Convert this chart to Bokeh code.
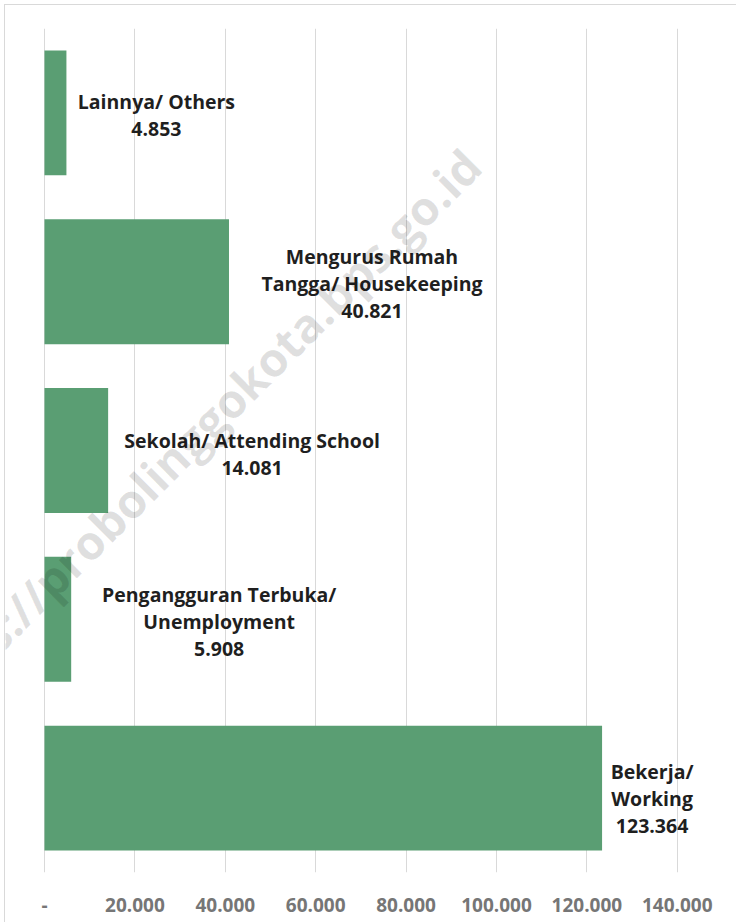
from bokeh.plotting import figure
from bokeh.models import FactorRange, Range1d, FixedTicker, Label, ColumnDataSource
from bokeh.core.properties import value
from bokeh.embed import file_html
from bokeh.resources import INLINE

# ---- data (bottom to top) ----
categories = ["Bekerja/ Working", "Pengangguran Terbuka/ Unemployment",
              "Sekolah/ Attending School", "Mengurus Rumah Tangga/ Housekeeping",
              "Lainnya/ Others"]
label_names = ["Bekerja/\nWorking", "Pengangguran Terbuka/\nUnemployment",
               "Sekolah/ Attending School", "Mengurus Rumah\nTangga/ Housekeeping",
               "Lainnya/ Others"]
values = [123364, 5908, 14081, 40821, 4853]
tick_values = [0, 20000, 40000, 60000, 80000, 100000, 120000, 140000]
tick_labels = ["-", "20.000", "40.000", "60.000", "80.000", "100.000", "120.000", "140.000"]

# ---- style ----
label_dx = [50, 148, 144, 143, 90]
label_dy = [10, 2, 3, 2, 2]
FONT = "Open Sans"

def fmt(v):
    return f"{v:,}".replace(",", ".")

labels = [n + "\n" + fmt(v) for n, v in zip(label_names, values)]
src = ColumnDataSource(dict(cat=categories, val=values, lab=labels,
                            dx=label_dx, dy=label_dy))

p = figure(width=732, height=918, output_backend="svg", toolbar_location=None,
           y_range=FactorRange(factors=categories, range_padding=0, factor_padding=0),
           x_range=Range1d(-8626, 152000))
p.min_border_left = 0
p.min_border_right = 6
p.min_border_top = 23
p.min_border_bottom = 51
p.outline_line_color = None
p.background_fill_color = "white"
p.border_fill_color = "white"
p.styles = {"margin-left": "4px", "margin-top": "4px",
            "border-top": "1px solid #d9d9d9", "border-left": "1px solid #d9d9d9"}

p.hbar(y="cat", left=0, right="val", height=0.74, source=src,
       fill_color="#5A9E73", line_color=None)

p.text(x="val", y="cat", text="lab", x_offset="dx", y_offset="dy", source=src,
       text_align="center", text_baseline="middle",
       text_font=value(FONT), text_font_style="bold", text_font_size="19.5px",
       text_color="#1f1f1f", text_line_height=1.0)

# watermark
wm = Label(x=94660, y=4.236, text="https://probolinggokota.bps.go.id",
           angle=0.785398, text_align="right", text_baseline="alphabetic",
           text_font=FONT, text_font_style="bold", text_font_size="47px",
           text_color="black", text_alpha=0.12)
p.add_layout(wm)

p.yaxis.visible = False
p.ygrid.grid_line_color = None
p.xgrid.grid_line_color = "#d9d9d9"
p.xgrid.grid_line_width = 1
p.xaxis.ticker = FixedTicker(ticks=tick_values)
p.xaxis.major_label_overrides = {t: l for t, l in zip(tick_values, tick_labels)}
p.xaxis.axis_line_color = None
p.xaxis.major_tick_line_color = None
p.xaxis.minor_tick_line_color = None
p.xaxis.major_label_standoff = 19
p.xaxis.major_label_text_font = FONT
p.xaxis.major_label_text_font_style = "bold"
p.xaxis.major_label_text_font_size = "19px"
p.xaxis.major_label_text_color = "#767676"

open("out.html", "w").write(file_html(p, INLINE))
